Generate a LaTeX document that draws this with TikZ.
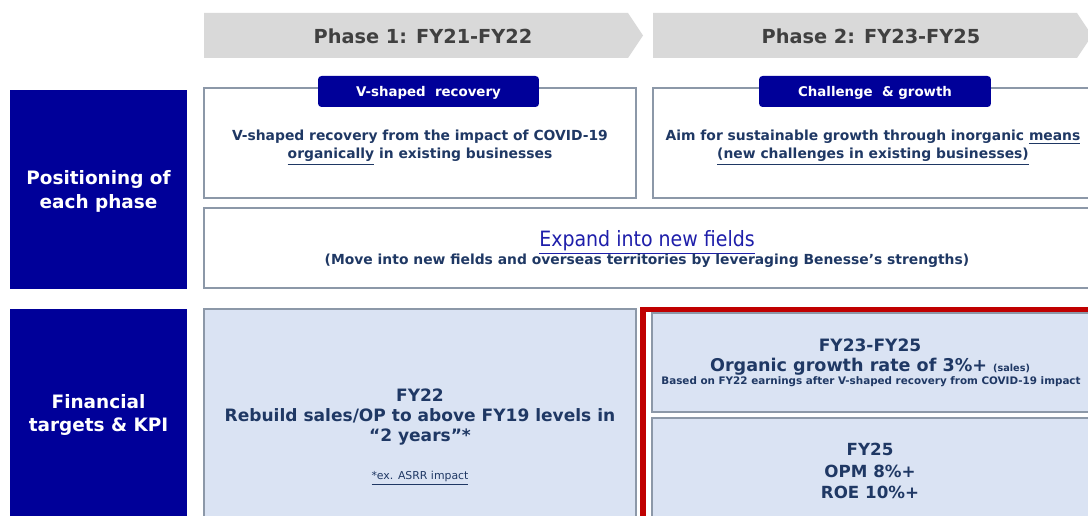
\documentclass[tikz,border=0pt]{standalone}
\usepackage{fontspec}
\setmainfont{DejaVu Sans}
\newfontfamily\narrowfont[FakeStretch=0.9]{DejaVu Sans}
\usetikzlibrary{positioning}
\definecolor{bnsnavy}{RGB}{0,0,153}
\definecolor{bnstext}{RGB}{31,56,100}
\definecolor{bnsgray}{RGB}{217,217,217}
\definecolor{bnsline}{RGB}{140,152,168}
\definecolor{bnslight}{RGB}{218,227,243}
\definecolor{bnsred}{RGB}{192,0,0}
\definecolor{bnsphase}{RGB}{64,64,64}
\definecolor{bnslink}{RGB}{30,30,170}

\tikzset{
  phasetext/.style={text=bnsphase, inner sep=0pt, font=\fontsize{11}{13}\selectfont\bfseries},
  rowlabel/.style={text=white, align=center, inner sep=0pt, font=\fontsize{10.5}{13.6}\selectfont\bfseries},
  tagbox/.style={fill=bnsnavy, rounded corners=2pt, text=white, minimum height=0.62cm, inner sep=0pt, text depth=0pt, font=\fontsize{7.6}{9}\selectfont\bfseries},
  framebox/.style={draw=bnsline, line width=1.1pt},
  bodytext/.style={text=bnstext, align=center, inner sep=0pt, font=\fontsize{7.9}{10.2}\selectfont\bfseries},
  bigtext/.style={text=bnstext, align=center, inner sep=0pt, font=\fontsize{9.7}{11.4}\selectfont\bfseries},
}

\begin{document}
\begin{tikzpicture}[x=0.02cm,y=-0.02cm]
  \useasboundingbox (0,0) rectangle (1088,516);
  \clip (0,0) rectangle (1088,516);

  % phase arrows
  \fill[bnsgray] (204,13) -- (628,13) -- (643,35.5) -- (628,58) -- (204,58) -- cycle;
  \fill[bnsgray] (653,13) -- (1077,13) -- (1092,35.5) -- (1077,58) -- (653,58) -- cycle;
  \node[phasetext] (phaseA) at (423,36) {Phase 1: FY21-FY22};
  \node[phasetext] (phaseB) at (871,36) {Phase 2: FY23-FY25};

  % row labels
  \fill[bnsnavy] (10,90) rectangle (187,289);
  \fill[bnsnavy] (10,309) rectangle (187,530);
  \node[rowlabel] (posLabel) at (98.5,191) {Positioning of\\each phase};
  \node[rowlabel] (finLabel) at (98.5,415) {Financial\\targets \& KPI};

  % positioning of each phase
  \draw[framebox] (204,88) rectangle (636,198);
  \draw[framebox] (653,88) rectangle (1100,198);
  \draw[framebox] (204,208) rectangle (1100,288);
  \node[tagbox, minimum width=4.42cm] (tagA) at (428.5,91.5) {V-shaped\ \ recovery};
  \node[tagbox, minimum width=4.64cm] (tagB) at (875,91.5) {Challenge\ \ \&\ growth};
  \node[bodytext] (recovery) at (420,147.5) {V-shaped recovery from the impact of COVID-19\\\underline{organically} in existing businesses};
  \node[bodytext] (growth) at (873,147.5) {Aim for sustainable growth through inorganic \underline{means}\\\underline{(new challenges in existing businesses)}};
  \node[text=bnslink, inner sep=0pt, font=\narrowfont\fontsize{12}{14}\selectfont] (expand) at (647,242) {\underline{Expand into new fields}};
  \node[bodytext] (expandSub) at (647,261) {(Move into new fields and overseas territories by leveraging Benesse’s strengths)};

  % financial targets & KPI
  \draw[framebox, fill=bnslight] (204,309) rectangle (636,530);
  \draw[bnsred, line width=3.2pt] (643,309.5) rectangle (1100,530);
  \draw[framebox, fill=bnslight] (652,313) rectangle (1100,412);
  \draw[framebox, fill=bnslight] (652,418) rectangle (1100,530);

  \node[bigtext] (fy22) at (420,417) {FY22\\Rebuild sales/OP to above FY19 levels in\\“2 years”*};
  \node[text=bnstext, inner sep=0pt, font=\fontsize{6.2}{7}\selectfont] (asrr) at (420,478) {\underline{*ex. ASRR impact}};

  \node[bigtext] (fy2325) at (870,345) {FY23-FY25};
  \node[bigtext, font=\fontsize{10}{12}\selectfont\bfseries] (organic) at (870,367) {Organic growth rate of 3\%+ {\fontsize{5.5}{6}\selectfont(sales)}};
  \node[text=bnstext, inner sep=0pt, font=\fontsize{5.9}{7}\selectfont\bfseries] (basis) at (871,382) {Based on FY22 earnings after V-shaped recovery from COVID-19 impact};

  \node[bigtext, font=\fontsize{9.5}{12}\selectfont\bfseries] (fy25) at (870,471) {FY25\\OPM 8\%+\\ROE 10\%+};
\end{tikzpicture}
\end{document}
